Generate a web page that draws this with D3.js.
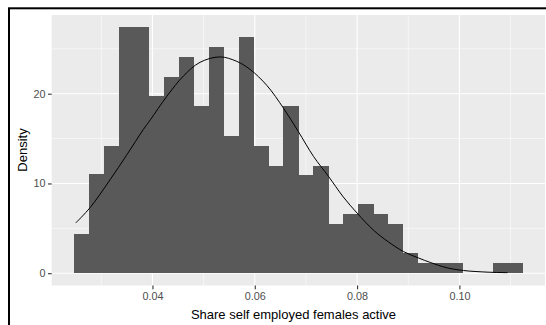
<!DOCTYPE html>
<html><head><meta charset="utf-8">
<script src="https://cdn.jsdelivr.net/npm/d3@7"></script>
<style>html,body{margin:0;padding:0;background:#fff;}svg{display:block;font-family:"Liberation Sans",Arial,sans-serif;}</style>
</head><body>
<svg id="c" width="546" height="325"></svg>
<script>
// Histogram bins (left edges) and density heights
const binLefts = [0.02469,0.02761,0.03053,0.03346,0.03638,0.03930,0.04222,0.04514,0.04807,0.05099,
  0.05391,0.05683,0.05975,0.06268,0.06560,0.06852,0.07144,0.07436,0.07729,0.08021,
  0.08313,0.08605,0.08897,0.09190,0.09482,0.09774,0.10066,0.10358,0.10651,0.10943];
const binWidth = 0.002922;
const densities = [4.4,11.0,14.2,27.4,27.4,19.7,21.9,24.1,18.6,25.2,
  15.3,26.3,14.2,12.0,18.6,10.9,12.0,5.5,6.6,7.7,
  6.6,5.5,2.2,1.1,1.1,1.1,0,0,1.1,1.1];
// Density curve points
const curveX = [0.0250,0.0278,0.0317,0.0350,0.0382,0.0396,0.0428,0.0461,0.0493,0.0532,0.0565,0.0591,0.0624,0.0656,0.0685,0.0715,0.0744,0.0773,0.0800,0.0832,0.0861,0.0891,0.0920,0.0943,0.0976,0.1008,0.1054,0.1094];
const curveY = [5.6,7.3,10.4,13.2,16.0,17.1,19.7,22.0,23.5,24.1,23.6,22.7,20.9,18.4,15.8,13.0,10.8,8.5,6.7,4.8,3.5,2.4,1.7,1.2,0.6,0.3,0.12,0.06];
const xMajor = [0.04,0.06,0.08,0.10];
const xMajorLabels = ["0.04","0.06","0.08","0.10"];
const xMinor = [0.03,0.05,0.07,0.09,0.11];
const yMajor = [0,10,20];
const yMinor = [5,15,25];
const xTitle = "Share self employed females active";
const yTitle = "Density";

const svg = d3.select("#c");
const P = {l:51.7, r:545, t:15, b:285.5};
const x = d3.scaleLinear().domain([0.020307, 0.116733]).range([P.l, P.r]);
const y = d3.scaleLinear().domain([-1.37, 28.77]).range([P.b, P.t]);

svg.append("rect").attr("x",P.l).attr("y",P.t).attr("width",P.r-P.l).attr("height",P.b-P.t).attr("fill","#EBEBEB");
const g = svg.append("g");
g.selectAll(".xmin").data(xMinor).join("line").attr("x1",d=>x(d)).attr("x2",d=>x(d)).attr("y1",P.t).attr("y2",P.b).attr("stroke","#fff").attr("stroke-width",0.55);
g.selectAll(".ymin").data(yMinor).join("line").attr("y1",d=>y(d)).attr("y2",d=>y(d)).attr("x1",P.l).attr("x2",P.r).attr("stroke","#fff").attr("stroke-width",0.55);
g.selectAll(".xmaj").data(xMajor).join("line").attr("x1",d=>x(d)).attr("x2",d=>x(d)).attr("y1",P.t).attr("y2",P.b).attr("stroke","#fff").attr("stroke-width",1.1);
g.selectAll(".ymaj").data(yMajor).join("line").attr("y1",d=>y(d)).attr("y2",d=>y(d)).attr("x1",P.l).attr("x2",P.r).attr("stroke","#fff").attr("stroke-width",1.1);

svg.append("g").attr("shape-rendering","crispEdges").selectAll("rect").data(densities).join("rect")
  .attr("x",(d,i)=>x(binLefts[i]))
  .attr("width",(d,i)=>x(binLefts[i]+binWidth)-x(binLefts[i])+0.4)
  .attr("y",d=>y(d)).attr("height",d=>y(0)-y(d))
  .attr("fill","#595959");

const pts = curveX.map((v,i)=>[v,curveY[i]]);
svg.append("path").attr("d", d3.line().x(d=>x(d[0])).y(d=>y(d[1])).curve(d3.curveCatmullRom)(pts))
  .attr("fill","none").attr("stroke","#000").attr("stroke-width",1);

// axes
const xa = svg.append("g").attr("transform",`translate(0,${P.b})`)
  .call(d3.axisBottom(x).tickValues(xMajor).tickFormat((d,i)=>xMajorLabels[i]).tickSize(3.7).tickPadding(3));
const ya = svg.append("g").attr("transform",`translate(${P.l},0)`)
  .call(d3.axisLeft(y).tickValues(yMajor).tickSize(3.7).tickPadding(2.5));
[xa,ya].forEach(a=>{
  a.select(".domain").remove();
  a.selectAll(".tick line").attr("stroke","#333").attr("stroke-width",1.1);
  a.selectAll(".tick text").attr("fill","#4D4D4D").attr("font-size","10.8px").attr("font-family","Liberation Sans, Arial, sans-serif");
});

svg.append("text").attr("x",293.5).attr("y",318.5).attr("text-anchor","middle").attr("font-size","13px").attr("fill","#000").text(xTitle);
svg.append("text").attr("transform","translate(26.5,150) rotate(-90)").attr("text-anchor","middle").attr("font-size","13px").attr("fill","#000").text(yTitle);

// outer border
svg.append("rect").attr("x",9).attr("y",8.3).attr("width",700).attr("height",500).attr("fill","none").attr("stroke","#000").attr("stroke-width",2);
</script>
</body></html>
